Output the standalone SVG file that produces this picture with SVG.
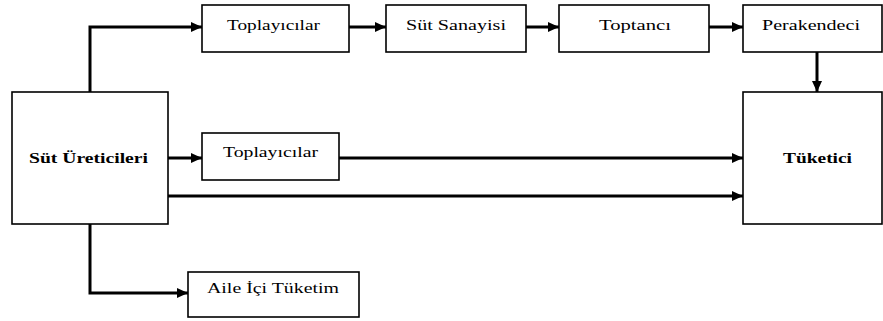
<svg xmlns="http://www.w3.org/2000/svg" width="883" height="321" viewBox="0 0 883 321">
<defs>
<marker id="ah" markerUnits="userSpaceOnUse" markerWidth="12" markerHeight="10" refX="11" refY="5" orient="auto">
<path d="M0,0 L11,5 L0,10 Z" fill="#000"/>
</marker>
<style>
.box{fill:#fff;stroke:#000;stroke-width:1.6}
.lbl{font-family:"Liberation Serif","Times New Roman",serif;font-size:15px;fill:#000;text-anchor:start}
.b{font-weight:bold}
.c{fill:none;stroke:#000;stroke-width:3;marker-end:url(#ah)}
</style>
</defs>
<rect width="883" height="321" fill="#fff"/>
<g id="connectors">
<path class="c" d="M90,92 V27 H202"/>
<path class="c" d="M349,27 H386"/>
<path class="c" d="M526,27 H559"/>
<path class="c" d="M709,27 H743"/>
<path class="c" d="M817,52 V92"/>
<path class="c" d="M168,158 H202"/>
<path class="c" d="M339,158 H743"/>
<path class="c" d="M168,196 H743"/>
<path class="c" d="M90,224 V293 H188"/>
</g>
<g id="uretici">
<rect class="box" x="12" y="92" width="156" height="132"/>
<text class="lbl b" x="29" y="163" textLength="119" lengthAdjust="spacingAndGlyphs">Süt Üreticileri</text>
</g>
<g id="toplayici1">
<rect class="box" x="202" y="5" width="147" height="47"/>
<text class="lbl" x="227" y="30" textLength="93" lengthAdjust="spacingAndGlyphs">Toplayıcılar</text>
</g>
<g id="sanayi">
<rect class="box" x="386" y="5" width="140" height="47"/>
<text class="lbl" x="406" y="30" textLength="100" lengthAdjust="spacingAndGlyphs">Süt Sanayisi</text>
</g>
<g id="toptanci">
<rect class="box" x="559" y="5" width="150" height="47"/>
<text class="lbl" x="599" y="30" textLength="72" lengthAdjust="spacingAndGlyphs">Toptancı</text>
</g>
<g id="perakendeci">
<rect class="box" x="743" y="5" width="139" height="47"/>
<text class="lbl" x="762" y="30" textLength="98" lengthAdjust="spacingAndGlyphs">Perakendeci</text>
</g>
<g id="toplayici2">
<rect class="box" x="202" y="133" width="137" height="47"/>
<text class="lbl" x="223" y="157" textLength="95" lengthAdjust="spacingAndGlyphs">Toplayıcılar</text>
</g>
<g id="tuketici">
<rect class="box" x="743" y="92" width="139" height="132"/>
<text class="lbl b" x="783" y="163" textLength="69" lengthAdjust="spacingAndGlyphs">Tüketici</text>
</g>
<g id="aile">
<rect class="box" x="188" y="272" width="171" height="45"/>
<text class="lbl" x="207" y="293" textLength="132" lengthAdjust="spacingAndGlyphs">Aile İçi Tüketim</text>
</g>
</svg>
